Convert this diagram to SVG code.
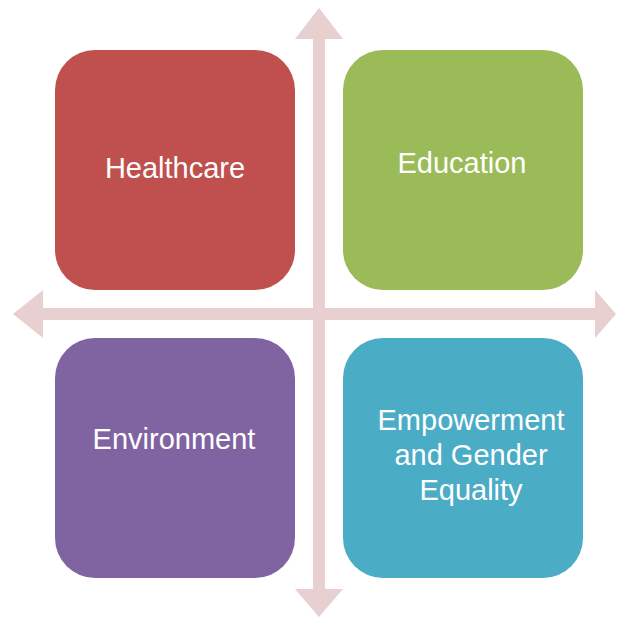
<svg xmlns="http://www.w3.org/2000/svg" width="617" height="618" viewBox="0 0 617 618">
<style>
.axis{fill:#E8CFD0;stroke:none}
.box{stroke:none}
.lbl{font-family:"Liberation Sans",Arial,sans-serif;font-size:29px;fill:#FFFFFF;text-anchor:middle}
</style>
<rect width="617" height="618" fill="#FFFFFF"/>
<g id="connectors">
<polygon class="axis" points="319,8 343,39 325,39 325,589 343,589 319,617 295,589 313,589 313,39 295,39"/>
<polygon class="axis" points="13,314 43,290 43,308 595,308 595,290 616,314 595,338 595,320 43,320 43,338"/>
</g>
<g id="healthcare">
<rect class="box" x="55" y="50" width="240" height="240" rx="40" fill="#C0504D"/>
<text class="lbl" x="175" y="178">Healthcare</text>
</g>
<g id="education">
<rect class="box" x="343" y="50" width="240" height="240" rx="40" fill="#9BBB59"/>
<text class="lbl" x="462" y="173">Education</text>
</g>
<g id="environment">
<rect class="box" x="55" y="338" width="240" height="240" rx="40" fill="#8064A2"/>
<text class="lbl" x="174" y="449">Environment</text>
</g>
<g id="empowerment">
<rect class="box" x="343" y="338" width="240" height="240" rx="40" fill="#4BACC6"/>
<text class="lbl" x="471" y="430">Empowerment</text>
<text class="lbl" x="471" y="465">and Gender</text>
<text class="lbl" x="471" y="500">Equality</text>
</g>
</svg>
